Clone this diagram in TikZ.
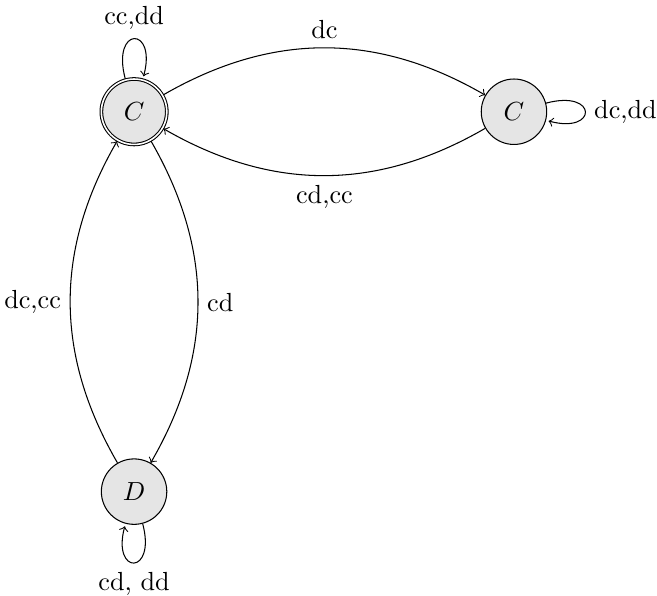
\documentclass[tikz,border=0pt]{standalone}
\usepackage{amsmath}
\usetikzlibrary{automata, positioning}
\tikzset{every state/.style={fill=gray!20, minimum size=2.5em}}

\begin{document}
\begin{tikzpicture}[->, node distance=5.1cm, on grid, auto]
    \useasboundingbox (-1.8,-6.5) rectangle (7.02,1.5);
    \node [state, accepting] (cA) {$C$};
    \node [state] (cB) [right=of cA] {$C$};
    \node [state] (dA) [below=of cA] {$D$};
    \path (cA) edge [loop above] node {cc,dd} ()
               edge [bend left] node {dc} (cB)
               edge [bend left] node {cd} (dA)
          (cB) edge [loop right] node {dc,dd} ()
               edge [bend left] node {cd,cc} (cA)
          (dA) edge [loop below] node {cd, dd} ()
               edge [bend left] node {dc,cc} (cA);
\end{tikzpicture}
\end{document}
